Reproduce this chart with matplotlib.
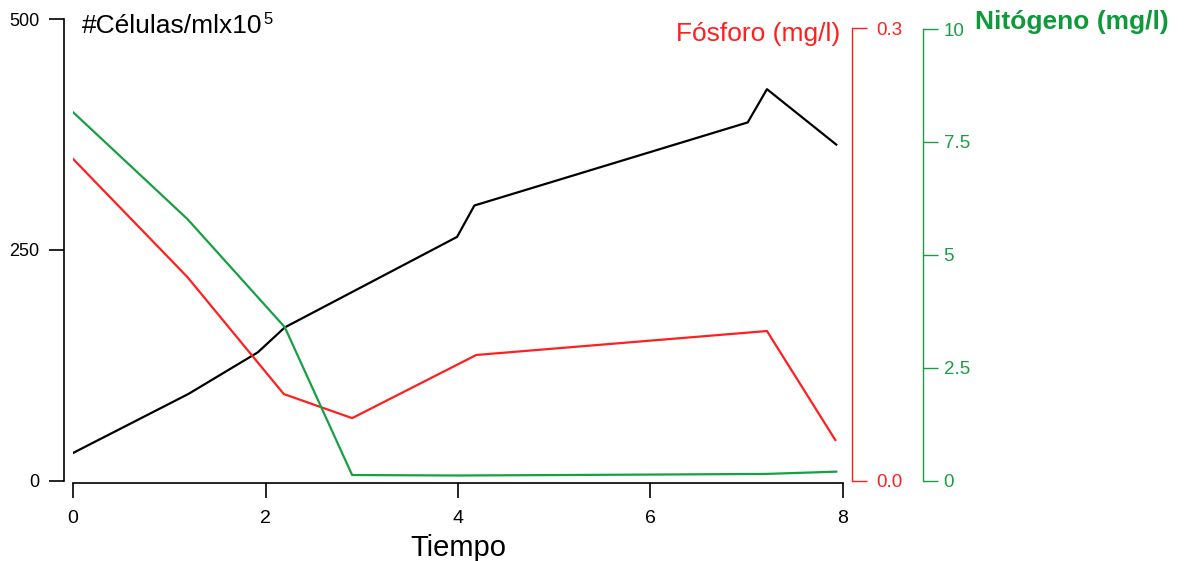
import matplotlib
matplotlib.use('Agg')
import matplotlib.pyplot as plt

plt.rcParams['font.family'] = ['Liberation Sans', 'DejaVu Sans']

# Data
t_cells = [0, 1.2, 1.92, 2.2, 3.99, 4.17, 7.01, 7.21, 7.93]
cells = [30, 94, 139, 166, 264, 298, 388, 424, 364]

t_phos = [0, 1.19, 2.19, 2.9, 4.19, 7.21, 7.92]
phos = [0.2135, 0.135, 0.0575, 0.0415, 0.0834, 0.0993, 0.027]

t_nit = [0, 1.19, 2.2, 2.9, 4.0, 5.5, 7.2, 7.93]
nit = [8.16, 5.79, 3.40, 0.126, 0.115, 0.13, 0.15, 0.20]

x_ticks = [0, 2, 4, 6, 8]
cell_ticks = [0, 250, 500]
phos_ticks = [0.0, 0.3]
phos_labels = ['0.0', '0.3']
nit_ticks = [0, 2.5, 5, 7.5, 10]
nit_labels = ['0', '2.5', '5', '7.5', '10']

RED = '#ff1f1f'
GREEN = '#17a043'
W, H = 1197, 561

fig = plt.figure(figsize=(W / 100, H / 100), dpi=100)
ax = fig.add_axes([73 / W, 80.3 / H, (843 - 73) / W, (480.7 - 19) / H])

ax.plot(t_cells, cells, color='black', lw=1.6)
ax.set_xlim(0, 8)
ax.set_ylim(0, 500)
for s in ['top', 'right']:
    ax.spines[s].set_visible(False)
ax.spines['left'].set_position(('outward', 6.3))
ax.spines['bottom'].set_position(('outward', 1.9))
ax.spines['left'].set_bounds(0, 500)
ax.spines['bottom'].set_bounds(0, 8)
for s in ['left', 'bottom']:
    ax.spines[s].set_linewidth(1.2)
ax.set_xticks(x_ticks)
ax.set_yticks(cell_ticks)
ax.tick_params(axis='x', length=11, width=1.2, pad=8, labelsize=14)
ax.tick_params(axis='y', length=11, width=1.2, pad=7, labelsize=13)
ax.set_xlabel('Tiempo', fontsize=21, labelpad=5)
ax.patch.set_alpha(0)

axp = ax.twinx()
axp.plot(t_phos, phos, color=RED, lw=1.6)
axp.set_ylim(0, 0.3 * 461.7 / 452.2)
axp.set_xlim(0, 8)
for s in ['top', 'left', 'bottom']:
    axp.spines[s].set_visible(False)
axp.spines['right'].set_position(('outward', 6.7))
axp.spines['right'].set_bounds(0, 0.3)
axp.spines['right'].set_color(RED)
axp.spines['right'].set_linewidth(1.0)
axp.set_yticks(phos_ticks)
axp.set_yticklabels(phos_labels)
axp.tick_params(axis='y', colors=RED, length=11, width=1.0, pad=6, labelsize=13.5)

axn = ax.twinx()
axn.plot(t_nit, nit, color=GREEN, lw=1.6)
axn.set_ylim(0, 10 * 461.7 / 451.7)
axn.set_xlim(0, 8)
for s in ['top', 'left', 'bottom']:
    axn.spines[s].set_visible(False)
axn.spines['right'].set_position(('outward', 57.4))
axn.spines['right'].set_bounds(0, 10)
axn.spines['right'].set_color(GREEN)
axn.spines['right'].set_linewidth(1.0)
axn.set_yticks(nit_ticks)
axn.set_yticklabels(nit_labels)
axn.tick_params(axis='y', colors=GREEN, length=11, width=1.0, pad=4, labelsize=13.5)

# cell label with a small superscript placed right after it
cell_lbl = fig.text(82 / W, 1 - 26 / H, '#Células/mlx10', fontsize=19,
                    color='black', ha='left', va='center')
renderer = fig.canvas.get_renderer()
bb = cell_lbl.get_window_extent(renderer=renderer)
fig.text((bb.x1 + 1) / W, 1 - 19 / H, '5', fontsize=12,
         color='black', ha='left', va='center')

fig.text(840 / W, 1 - 34 / H, 'Fósforo (mg/l)', fontsize=19,
         color=RED, ha='right', va='center')
fig.text(975 / W, 1 - 22 / H, 'Nitógeno (mg/l)', fontsize=19,
         color='#0e9a3a', fontweight='bold', ha='left', va='center')

fig.savefig('out.png', dpi=100)
